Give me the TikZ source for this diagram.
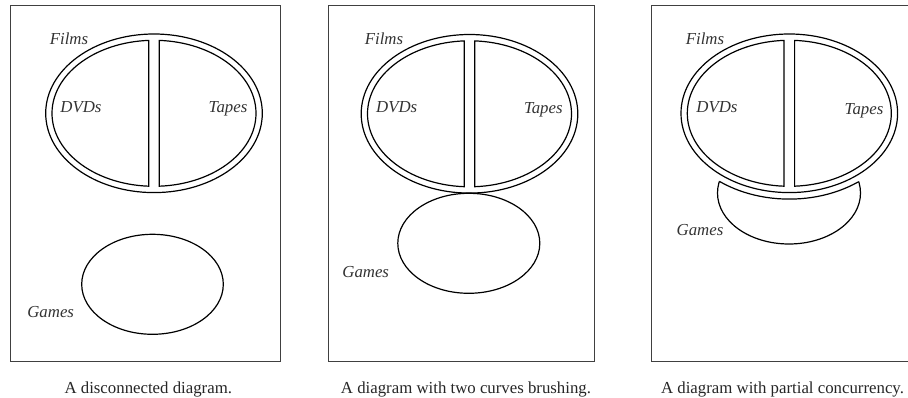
\documentclass[tikz,border=0pt]{standalone}
\usepackage{fontspec}
\setmainfont{Liberation Serif}
\begin{document}
\begin{tikzpicture}[x=1pt,y=-1pt,
  curve/.style={line width=1.2pt, draw=black},
  framebox/.style={line width=0.9pt, draw=black!75},
  lbl/.style={font=\fontsize{16.8}{18}\selectfont\itshape, text=black!80, inner sep=0pt, anchor=base},
  captiontext/.style={font=\fontsize{16.8}{18}\selectfont, text=black!85, inner sep=0pt, anchor=base}]
% page area
\clip (0,0) rectangle (908,398);
\fill[white] (0,0) rectangle (908,398);

% Films: a double-walled ellipse split into DVDs (left) and Tapes (right)
\newcommand\filmsgroup[2]{%
  \begin{scope}[shift={(#1,#2)}]
    \draw[curve] (0,0) ellipse [x radius=108.3, y radius=79.3];
    \draw[curve] ({102*cos(93)},{73*sin(93)})
      arc [start angle=93, end angle=267, x radius=102, y radius=73] -- cycle;
    \draw[curve] ({102*cos(87)},{73*sin(87)})
      arc [start angle=87, end angle=-87, x radius=102, y radius=73] -- cycle;
  \end{scope}}

% ---------- left panel: disconnected ----------
\draw[framebox] (10,5) rectangle (280.5,361.7);
\filmsgroup{154}{113.3}
\draw[curve] (152.5,284.3) ellipse [x radius=70.8, y radius=50];
\node[lbl] (films1) at (69,44.3) {Films};
\node[lbl] (dvds1) at (81,113) {DVDs};
\node[lbl] (tapes1) at (228,113) {Tapes};
\node[lbl] (games1) at (50.7,317.3) {Games};
\node[captiontext] (cap1) at (148.3,393) {A disconnected diagram.};

% ---------- middle panel: brushing ----------
\draw[framebox] (328.3,5) rectangle (594.3,361.7);
\filmsgroup{469.5}{113.8}
\draw[curve] (468.8,243.3) ellipse [x radius=71, y radius=50];
\node[lbl] (films2) at (384,44.3) {Films};
\node[lbl] (dvds2) at (396.7,113) {DVDs};
\node[lbl] (tapes2) at (543.3,114) {Tapes};
\node[lbl] (games2) at (365.7,278) {Games};
\node[captiontext] (cap2) at (466,393) {A diagram with two curves brushing.};

% ---------- right panel: partial concurrency ----------
\draw[framebox] (651.7,5) rectangle (918,361.7);
\filmsgroup{789.3}{113.3}
% Games: ellipse with the part near Films cut away along an offset of Films
\begin{scope}
  \clip (789,193) ellipse [x radius=71.5, y radius=51];
  \draw[curve] (789.3,113.3) ellipse [x radius=114.8, y radius=85.8];
\end{scope}
\begin{scope}[even odd rule]
  \clip (600,0) rectangle (908,398)
    (789.3,113.3) ellipse [x radius=114.8, y radius=85.8];
  \draw[curve] (789,193) ellipse [x radius=71.5, y radius=51];
\end{scope}
\node[lbl] (films3) at (705,44.3) {Films};
\node[lbl] (dvds3) at (717,113) {DVDs};
\node[lbl] (tapes3) at (864,114.5) {Tapes};
\node[lbl] (games3) at (700,236) {Games};
\node[captiontext] (cap3) at (782.5,393) {A diagram with partial concurrency.};
\end{tikzpicture}
\end{document}
